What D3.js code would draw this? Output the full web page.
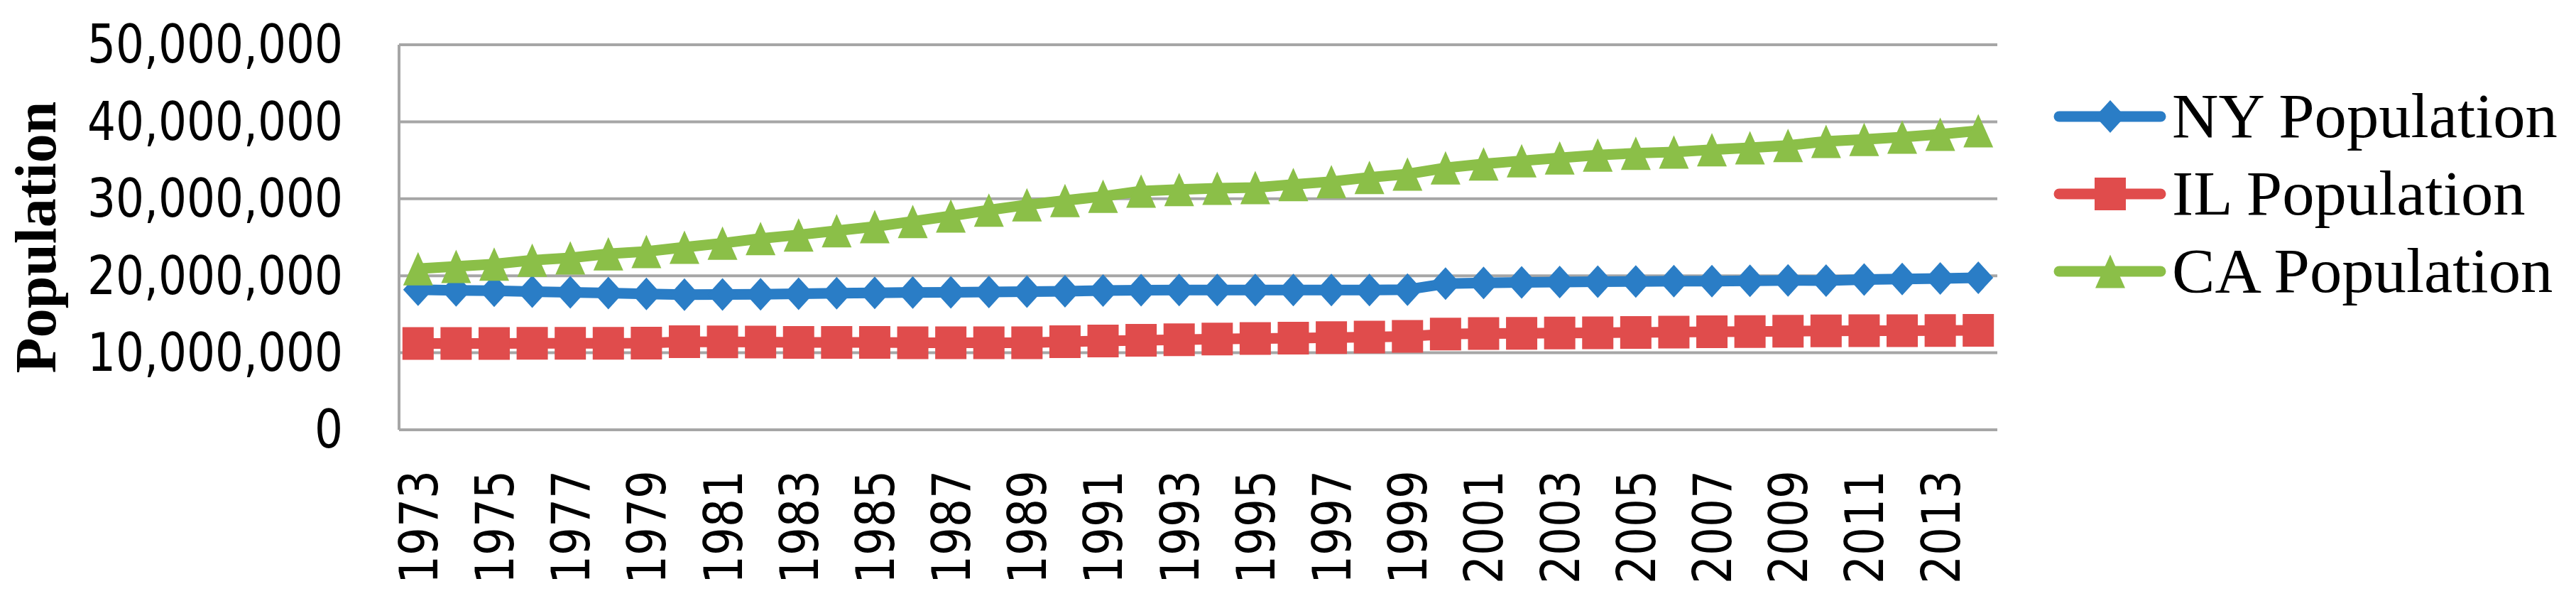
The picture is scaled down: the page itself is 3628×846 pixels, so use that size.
<!DOCTYPE html>
<html>
<head>
<meta charset="utf-8">
<script src="https://cdn.jsdelivr.net/npm/d3@7"></script>
<style>
  body { margin: 0; background: #fff; }
  svg { display: block; }
</style>
</head>
<body>
<div id="chart"></div>
<script>
// categories
var years = [1973, 1974, 1975, 1976, 1977, 1978, 1979, 1980, 1981, 1982, 1983, 1984, 1985, 1986,
    1987, 1988, 1989, 1990, 1991, 1992, 1993, 1994, 1995, 1996, 1997, 1998, 1999, 2000,
    2001, 2002, 2003, 2004, 2005, 2006, 2007, 2008, 2009, 2010, 2011, 2012, 2013, 2014];
var yearLabels = [1973, 1975, 1977, 1979, 1981, 1983, 1985, 1987, 1989, 1991, 1993, 1995, 1997,
    1999, 2001, 2003, 2005, 2007, 2009, 2011, 2013];
var yTicks = [0, 10000000, 20000000, 30000000, 40000000, 50000000];

// series values, millions
var nyPop = [18.2, 18.1, 18.05, 17.95, 17.85, 17.75, 17.65, 17.56, 17.57, 17.59, 17.67, 17.73, 17.78, 17.83,
    17.86, 17.9, 17.95, 17.99, 18.08, 18.12, 18.15, 18.15, 18.14, 18.14, 18.14, 18.16, 18.2, 18.98,
    19.08, 19.14, 19.19, 19.23, 19.26, 19.3, 19.3, 19.35, 19.4, 19.38, 19.5, 19.57, 19.65, 19.75];
var ilPop = [11.2, 11.2, 11.2, 11.23, 11.24, 11.24, 11.25, 11.43, 11.42, 11.39, 11.35, 11.34, 11.35, 11.3,
    11.3, 11.3, 11.3, 11.43, 11.54, 11.63, 11.7, 11.78, 11.85, 11.91, 11.97, 12.05, 12.13, 12.42,
    12.49, 12.53, 12.56, 12.6, 12.64, 12.68, 12.72, 12.75, 12.8, 12.84, 12.86, 12.87, 12.89, 12.92];
var caPop = [20.91, 21.22, 21.52, 22.02, 22.32, 22.85, 23.15, 23.71, 24.23, 24.84, 25.31, 25.86, 26.38, 27.06,
    27.77, 28.53, 29.21, 29.77, 30.32, 31.0, 31.21, 31.37, 31.46, 31.86, 32.23, 32.78, 33.21, 34.01,
    34.53, 34.93, 35.3, 35.67, 35.92, 36.07, 36.38, 36.62, 36.93, 37.45, 37.7, 38.0, 38.38, 38.84];

var seriesNames = ['NY Population', 'IL Population', 'CA Population'];
var seriesColors = ['#2a7dc6', '#e04c4c', '#8bbf48'];

// marker shapes
var diamond = {
    draw: function(ctx) {
        ctx.moveTo(0, -23); ctx.lineTo(21, 0); ctx.lineTo(0, 23); ctx.lineTo(-21, 0); ctx.closePath();
    }
};
var square = {
    draw: function(ctx) {
        ctx.rect(-22, -23, 44, 46);
    }
};
var triangle = {
    draw: function(ctx) {
        ctx.moveTo(0, -23.5); ctx.lineTo(21, 23.5); ctx.lineTo(-21, 23.5); ctx.closePath();
    }
};
var shapes = [diamond, square, triangle];

var series = [nyPop, ilPop, caPop].map(function(vals, i) {
    return {
        name: seriesNames[i],
        color: seriesColors[i],
        shape: shapes[i],
        values: vals.map(function(v, j) { return { year: years[j], value: v * 1e6 }; })
    };
});

var W = 3628, H = 846;
var margin = { top: 63, right: 815, bottom: 241, left: 562 };
var width = W - margin.left - margin.right,
    height = H - margin.top - margin.bottom;

var svg = d3.select('#chart').append('svg').attr('width', W).attr('height', H);
var g = svg.append('g').attr('transform', 'translate(' + margin.left + ',' + margin.top + ')');

var x = d3.scaleBand().domain(years).range([0, width]);
var y = d3.scaleLinear().domain([0, 50000000]).range([height, 0]);
var cx = function(d) { return x(d.year) + x.bandwidth() / 2; };

var tickFont = 74, tickSquash = 0.85;

// gridlines
g.append('g').selectAll('line').data(yTicks).enter().append('line')
    .attr('x1', 0).attr('x2', width)
    .attr('y1', function(d) { return y(d); }).attr('y2', function(d) { return y(d); })
    .attr('stroke', '#a6a6a6').attr('stroke-width', 4);
g.append('line').attr('x1', 0).attr('x2', 0).attr('y1', 0).attr('y2', height)
    .attr('stroke', '#a6a6a6').attr('stroke-width', 4);

// y axis
var yAxis = g.append('g').call(d3.axisLeft(y).tickValues(yTicks).tickSize(0).tickFormat(d3.format(',')));
yAxis.select('.domain').remove();
yAxis.selectAll('text')
    .attr('x', null).attr('dy', null)
    .attr('transform', 'translate(-79,' + (0.3645 * tickFont - 2) + ') scale(' + tickSquash + ',1)')
    .style('font-family', 'DejaVu Sans').style('font-size', tickFont + 'px').attr('fill', '#000');

// x axis
var xAxis = g.append('g').attr('transform', 'translate(0,' + height + ')')
    .call(d3.axisBottom(x).tickValues(yearLabels).tickSize(0));
xAxis.select('.domain').remove();
xAxis.selectAll('text')
    .attr('y', null).attr('dy', null)
    .attr('text-anchor', 'end')
    .attr('transform', 'translate(' + (0.3645 * tickFont) + ',57) rotate(-90) scale(' + tickSquash + ',1)')
    .style('font-family', 'DejaVu Sans').style('font-size', tickFont + 'px').attr('fill', '#000');

// y title
svg.append('text')
    .attr('transform', 'translate(78,334) rotate(-90)')
    .attr('text-anchor', 'middle')
    .style('font-family', 'Liberation Serif').style('font-weight', 'bold').style('font-size', '82px')
    .text('Population');

// lines + markers
var line = d3.line().x(cx).y(function(d) { return y(d.value); });
series.forEach(function(s) {
    var sg = g.append('g');
    sg.append('path').datum(s.values).attr('d', line)
        .attr('fill', 'none').attr('stroke', s.color).attr('stroke-width', 15).attr('stroke-linejoin', 'round');
    sg.selectAll('path.mk').data(s.values).enter().append('path').attr('class', 'mk')
        .attr('d', d3.symbol().type(s.shape))
        .attr('transform', function(d) { return 'translate(' + cx(d) + ',' + y(d.value) + ')'; })
        .attr('fill', s.color);
});

// legend
var legend = svg.selectAll('.legend').data(series).enter().append('g').attr('class', 'legend')
    .attr('transform', function(d, i) { return 'translate(2900,' + (164 + i * 109) + ')'; });
legend.append('line').attr('x1', 0).attr('x2', 143)
    .attr('stroke', function(d) { return d.color; }).attr('stroke-width', 15).attr('stroke-linecap', 'round');
legend.append('path').attr('d', function(d) { return d3.symbol().type(d.shape)(); })
    .attr('transform', 'translate(72,0)')
    .attr('fill', function(d) { return d.color; });
legend.append('text')
    .attr('transform', 'translate(159,' + (0.331 * 88) + ') scale(1.03,1)')
    .style('font-family', 'Liberation Serif').style('font-size', '88px')
    .text(function(d) { return d.name; });
</script>
</body>
</html>
